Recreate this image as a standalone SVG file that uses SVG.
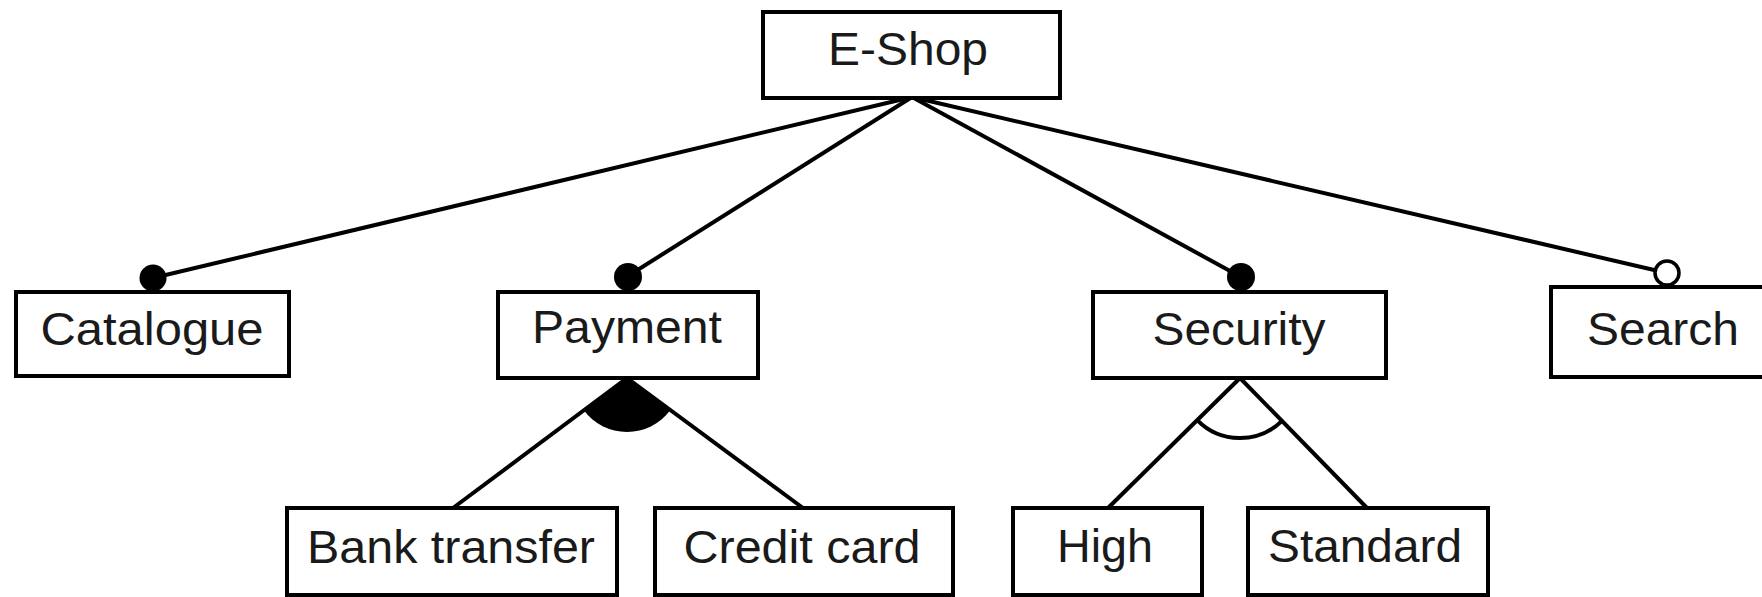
<svg xmlns="http://www.w3.org/2000/svg" width="1762" height="597" viewBox="0 0 1762 597">
<style>
.box{fill:#fff;stroke:#000;stroke-width:4}
.lbl{font-family:"Liberation Sans",Arial,sans-serif;font-size:46px;fill:#1a1a1a;text-anchor:middle}
.ln{stroke:#000;stroke-width:4;fill:none}
</style>
<rect width="1762" height="597" fill="#fff"/>
<g id="connectors">
<line class="ln" x1="912" y1="97" x2="153" y2="278"/>
<line class="ln" x1="912" y1="97" x2="628" y2="276"/>
<line class="ln" x1="912" y1="97" x2="1241" y2="277"/>
<line class="ln" x1="912" y1="97" x2="1667" y2="273"/>
<circle cx="153" cy="278" r="13.5" fill="#000"/>
<circle cx="628" cy="277" r="14" fill="#000"/>
<circle cx="1241" cy="277" r="14" fill="#000"/>
<circle cx="1667" cy="273" r="12" fill="#fff" stroke="#000" stroke-width="3.5"/>
<path d="M627,378 L583.6,410.1 A54,54 0 0 0 670.4,410.1 Z" fill="#000"/>
<line class="ln" x1="627" y1="378" x2="453" y2="508"/>
<line class="ln" x1="627" y1="378" x2="803" y2="508"/>
<line class="ln" x1="1240" y1="378" x2="1108" y2="508"/>
<line class="ln" x1="1240" y1="378" x2="1367" y2="508"/>
<path class="ln" d="M1197.2,420.1 A60,60 0 0 0 1282.0,420.9" stroke-width="3.5"/>
</g>
<g id="eshop"><rect class="box" x="763" y="12" width="297" height="86"/><text class="lbl" x="908" y="65" textLength="160" lengthAdjust="spacingAndGlyphs">E-Shop</text></g>
<g id="catalogue"><rect class="box" x="16" y="292" width="273" height="84"/><text class="lbl" x="152" y="345" textLength="223" lengthAdjust="spacingAndGlyphs">Catalogue</text></g>
<g id="payment"><rect class="box" x="498" y="292" width="260" height="86"/><text class="lbl" x="627" y="343" textLength="190" lengthAdjust="spacingAndGlyphs">Payment</text></g>
<g id="security"><rect class="box" x="1093" y="292" width="293" height="86"/><text class="lbl" x="1239" y="345" textLength="173" lengthAdjust="spacingAndGlyphs">Security</text></g>
<g id="search"><rect class="box" x="1551" y="287" width="215" height="90"/><text class="lbl" x="1663" y="345" textLength="152" lengthAdjust="spacingAndGlyphs">Search</text></g>
<g id="banktransfer"><rect class="box" x="287" y="508" width="330" height="87"/><text class="lbl" x="451" y="563" textLength="288" lengthAdjust="spacingAndGlyphs">Bank transfer</text></g>
<g id="creditcard"><rect class="box" x="655" y="508" width="298" height="87"/><text class="lbl" x="802" y="563" textLength="237" lengthAdjust="spacingAndGlyphs">Credit card</text></g>
<g id="high"><rect class="box" x="1013" y="508" width="189" height="87"/><text class="lbl" x="1105" y="562" textLength="96" lengthAdjust="spacingAndGlyphs">High</text></g>
<g id="standard"><rect class="box" x="1248" y="508" width="240" height="87"/><text class="lbl" x="1365" y="562" textLength="194" lengthAdjust="spacingAndGlyphs">Standard</text></g>
</svg>
